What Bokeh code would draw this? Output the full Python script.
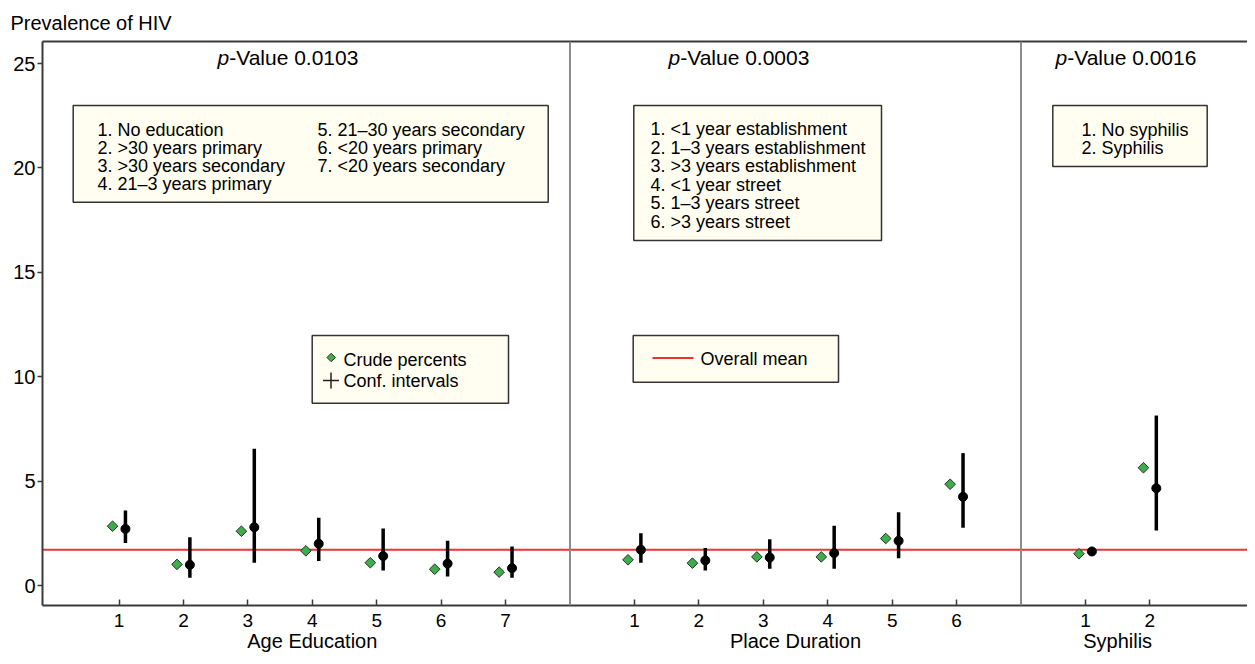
import math
from bokeh.plotting import figure
from bokeh.models import Range1d, FixedTicker, Span, BoxAnnotation, ColumnDataSource, LinearAxis
from bokeh.core.properties import value
from bokeh.transform import dodge
from bokeh.embed import file_html
from bokeh.resources import INLINE

FONT = "Liberation Sans"

# ---------------- data ----------------
groups = ["Age Education", "Place Duration", "Syphilis"]
p_values = ["0.0103", "0.0003", "0.0016"]

age_items = ["1. No education", "2. >30 years primary", "3. >30 years secondary",
             "4. 21\u20133 years primary", "5. 21\u201330 years secondary",
             "6. <20 years primary", "7. <20 years secondary"]
age_crude = [2.84, 1.01, 2.60, 1.66, 1.09, 0.78, 0.64]
age_est = [2.71, 0.99, 2.79, 2.00, 1.41, 1.05, 0.83]
age_lo = [2.03, 0.37, 1.09, 1.17, 0.72, 0.43, 0.37]
age_hi = [3.59, 2.31, 6.55, 3.24, 2.73, 2.14, 1.87]

place_items = ["1. <1 year establishment", "2. 1\u20133 years establishment",
               "3. >3 years establishment", "4. <1 year street",
               "5. 1\u20133 years street", "6. >3 years street"]
place_crude = [1.23, 1.07, 1.37, 1.37, 2.25, 4.85]
place_est = [1.71, 1.20, 1.34, 1.55, 2.14, 4.25]
place_lo = [1.09, 0.72, 0.80, 0.80, 1.31, 2.76]
place_hi = [2.50, 1.79, 2.22, 2.86, 3.51, 6.34]

syph_items = ["1. No syphilis", "2. Syphilis"]
syph_crude = [1.52, 5.64]
syph_est = [1.63, 4.66]
syph_lo = [1.55, 2.63]
syph_hi = [1.72, 8.14]

overall_mean = 1.71
y_ticks = [0, 5, 10, 15, 20, 25]

# ---------------- layout helpers (picture pixels -> data) ----------------
group_start = [0, 8, 15]


def X(px):
    return (px - 54.07) / 64.43


def Y(py):
    return (585.0 - py) / 20.88


xs, crude, est, lo, hi = [], [], [], [], []
overrides = {}
for start, c_, e_, l_, h_ in zip(group_start,
                                 [age_crude, place_crude, syph_crude],
                                 [age_est, place_est, syph_est],
                                 [age_lo, place_lo, syph_lo],
                                 [age_hi, place_hi, syph_hi]):
    for k, (c, e, l, h) in enumerate(zip(c_, e_, l_, h_), start=1):
        xs.append(start + k)
        crude.append(c)
        est.append(e)
        lo.append(l)
        hi.append(h)
        overrides[start + k] = str(k)

src = ColumnDataSource(dict(x=xs, crude=crude, est=est, lo=lo, hi=hi))

p = figure(width=1247, height=656, output_backend="svg", toolbar_location=None,
           x_range=Range1d(X(42), X(1247)), y_range=Range1d(Y(605), Y(41)),
           min_border_left=42, min_border_top=41, min_border_bottom=51, min_border_right=0)
p.xgrid.visible = False
p.ygrid.visible = False
p.outline_line_color = None
p.background_fill_color = "white"
p.border_fill_color = "white"

# title (top-left, outside the frame)
p.title.text = "Prevalence of HIV"
p.title.align = "left"
p.title.offset = -32
p.title.standoff = 15
p.title.text_font = FONT
p.title.text_font_size = "20px"
p.title.text_font_style = "normal"
p.title.text_color = "black"

AX = "#3a3a3a"
p.xaxis.ticker = FixedTicker(ticks=xs)
p.xaxis.major_label_overrides = overrides
p.xaxis.minor_tick_line_color = None
p.xaxis.major_tick_in = 6
p.xaxis.major_tick_out = 0
p.xaxis.major_label_standoff = 8
p.yaxis.ticker = FixedTicker(ticks=y_ticks)
p.yaxis.minor_tick_line_color = None
p.yaxis.major_tick_in = 0
p.yaxis.major_tick_out = 5
p.yaxis.major_label_standoff = 2
for ax in (p.xaxis[0], p.yaxis[0]):
    ax.axis_line_color = AX
    ax.axis_line_width = 2
    ax.major_tick_line_color = AX
    ax.major_tick_line_width = 1.5
    ax.major_label_text_font = FONT
    ax.major_label_text_color = "black"
p.xaxis.major_label_text_font_size = "19px"
p.yaxis.major_label_text_font_size = "20px"

# group names as a second bottom axis
group_centers = [group_start[0] + 4, group_start[1] + 3.5, group_start[2] + 1.5]
grp_axis = LinearAxis(ticker=FixedTicker(ticks=group_centers),
                      major_label_overrides={c: g for c, g in zip(group_centers, groups)},
                      axis_line_color=None, major_tick_line_color=None,
                      minor_tick_line_color=None, major_tick_in=0, major_tick_out=0,
                      major_label_standoff=0, major_label_text_font=FONT,
                      major_label_text_font_size="20px", major_label_text_color="black")
p.add_layout(grp_axis, "below")

# top border line
top = LinearAxis(ticker=FixedTicker(ticks=[]), major_label_text_font_size="0px",
                 axis_line_color=AX, axis_line_width=2, major_tick_in=0, major_tick_out=0,
                 major_label_standoff=0,
                 major_tick_line_color=None, minor_tick_line_color=None)
p.add_layout(top, "above")

# overall mean line
p.add_layout(Span(location=overall_mean, dimension="width", line_color="#ea3434",
                  line_width=2, level="underlay"))

# panel dividers
for s in group_start[1:]:
    p.add_layout(Span(location=s, dimension="height", line_color="#8c8c8c", line_width=2))

# legend boxes
BOX_FILL = "#fffef0"
for (l, r, t, b) in [(72.7, 547.7, 105, 201.7), (633.3, 881, 105, 240),
                     (1052.3, 1206.7, 105, 166), (311.7, 508, 335, 402.7),
                     (632.7, 838, 335, 381.7)]:
    p.add_layout(BoxAnnotation(left=X(l), right=X(r), top=Y(t), bottom=Y(b),
                               fill_color=BOX_FILL, fill_alpha=1, line_color="#333333",
                               line_width=1.5, line_alpha=1, level="underlay"))

TXT = dict(text_font=value(FONT), text_font_size="18px", text_baseline="middle",
           text_align="left", text_color="black")

# box 1: two columns
col1 = age_items[:4]
col2 = age_items[4:]
p.text(x=[X(97)] * len(col1), y=[Y(129 + 18 * i) for i in range(len(col1))], text=col1, **TXT)
p.text(x=[X(317)] * len(col2), y=[Y(129 + 18 * i) for i in range(len(col2))], text=col2, **TXT)
# box 2
p.text(x=[X(650)] * len(place_items), y=[Y(128.5 + 18.5 * i) for i in range(len(place_items))],
       text=place_items, **TXT)
# box 3
p.text(x=[X(1081)] * len(syph_items), y=[Y(129 + 18 * i) for i in range(len(syph_items))],
       text=syph_items, **TXT)

# symbol legend
p.scatter(x=[X(330.7)], y=[Y(357)], marker="square", angle=math.pi / 4, size=6,
          fill_color="#3cae4b", line_color="#2b2b2b", line_width=1)
p.scatter(x=[X(330.5)], y=[Y(380)], marker="cross", size=16, line_color="#222222", line_width=1.5)
p.text(x=[X(343), X(343)], y=[Y(359), Y(380)], text=["Crude percents", "Conf. intervals"], **TXT)
p.segment(x0=[X(652)], x1=[X(693)], y0=[Y(357.5)], y1=[Y(357.5)], line_color="#ea3434", line_width=2)
p.text(x=[X(700)], y=[Y(358)], text=["Overall mean"], **TXT)

# p-values
PV = dict(text_font=value(FONT), text_font_size="21px", text_baseline="middle",
          text_align="left", text_color="black")
p_x = [217, 668, 1055]
p.text(x=[X(v) for v in p_x], y=[Y(57)] * 3, text=["p"] * 3, text_font_style="italic", **PV)
p.text(x=[X(v + 11.7) for v in p_x], y=[Y(57)] * 3, text=["-Value " + v for v in p_values], **PV)

# data marks
p.segment(x0=dodge("x", 0.1), y0="lo", x1=dodge("x", 0.1), y1="hi", source=src,
          line_color="black", line_width=3.5)
p.scatter(x=dodge("x", -0.1), y="crude", source=src, marker="square", angle=math.pi / 4,
          size=7.5, fill_color="#3cae4b", line_color="#2b2b2b", line_width=1)
p.scatter(x=dodge("x", 0.1), y="est", source=src, marker="circle", size=9,
          fill_color="black", line_color="black")

open("out.html", "w").write(file_html(p, INLINE))
